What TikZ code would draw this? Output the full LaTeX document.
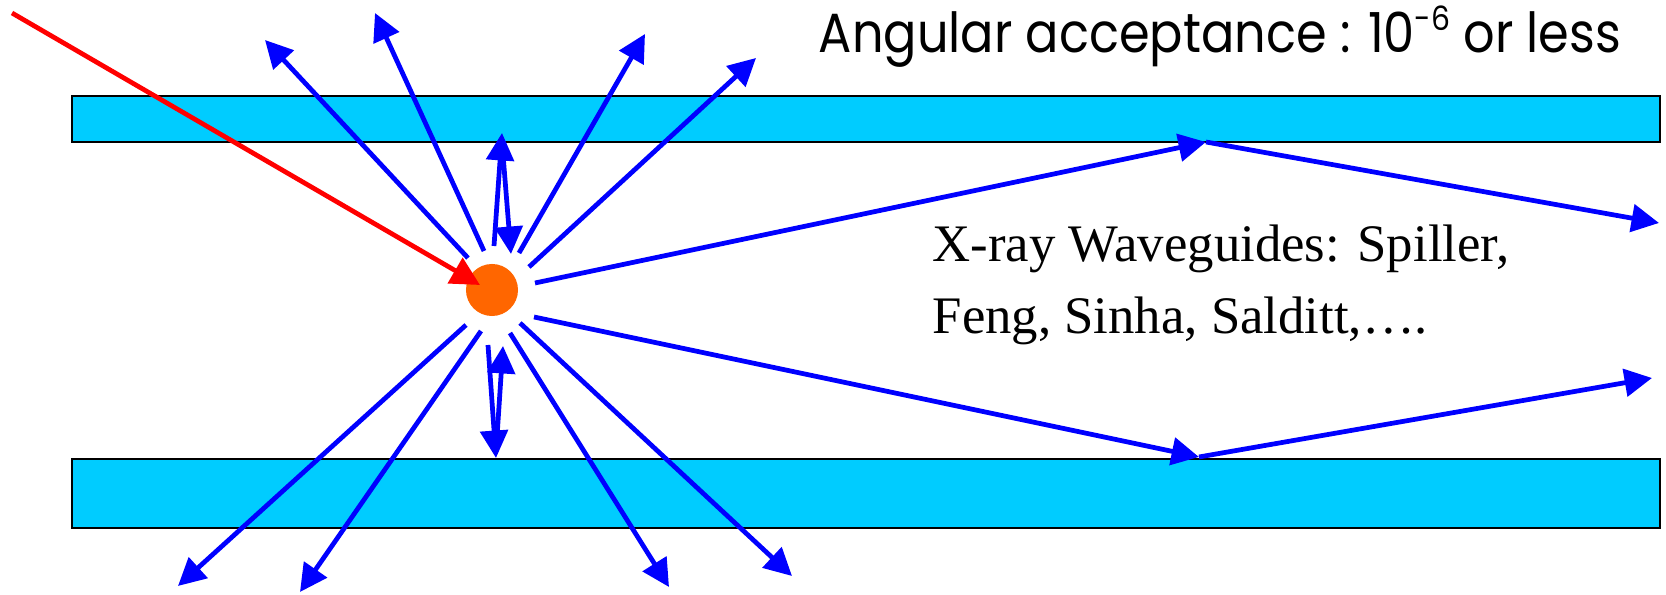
\documentclass[tikz,border=0pt]{standalone}
\usepackage{graphicx}
\usepackage{fontspec}
\setmainfont{Liberation Serif}
\newfontfamily\comicfont{Poppins}
\usetikzlibrary{arrows.meta}
\definecolor{guidecyan}{HTML}{00CCFF}
\definecolor{srcorange}{HTML}{FF6600}
\definecolor{rayblue}{HTML}{0000FF}
\definecolor{beamred}{HTML}{FF0000}
\begin{document}
\begin{tikzpicture}[x=0.01cm,y=-0.01cm,
  guide/.style={draw=black, line width=0.5pt, fill=guidecyan},
  ray/.style={draw=rayblue, line width=1.35pt, -{Triangle[length=7.8pt,width=7.8pt]}},
  beam/.style={draw=beamred, line width=1.35pt, -{Triangle[length=8.2pt,width=8.2pt]}},
  src/.style={circle, fill=srcorange, inner sep=0pt, minimum size=0.52cm},
  label/.style={anchor=base west, inner sep=0pt, font=\fontsize{15}{18}\selectfont},
]
\useasboundingbox (0,0) rectangle (1666,595);
% waveguides
\draw[guide] (72,96) rectangle (1660,142);
\draw[guide] (72,459) rectangle (1660,528);
% source
\node[src] (src) at (492,290) {};
% end points
\coordinate (b0) at (12,13);
\coordinate (b1) at (480,285);
\coordinate (u1s) at (468,258); \coordinate (u1e) at (265,40);
\coordinate (u2s) at (484,251); \coordinate (u2e) at (375,13);
\coordinate (u3s) at (494,246); \coordinate (u3e) at (502,133);
\coordinate (u3r) at (502,142); \coordinate (u3f) at (511,254);
\coordinate (u4s) at (519,253); \coordinate (u4e) at (645,34);
\coordinate (u5s) at (529,267); \coordinate (u5e) at (756,58);
\coordinate (r1s) at (535,283); \coordinate (r1m) at (1206,142); \coordinate (r1e) at (1659,223);
\coordinate (r2s) at (534,317); \coordinate (r2m) at (1199,457); \coordinate (r2e) at (1652,378);
\coordinate (d1s) at (466,325); \coordinate (d1e) at (178,586);
\coordinate (d2s) at (481,331); \coordinate (d2e) at (300,592);
\coordinate (d3s) at (488,345); \coordinate (d3e) at (496,458);
\coordinate (d3r) at (496,452); \coordinate (d3f) at (503,346);
\coordinate (d4s) at (510,333); \coordinate (d4e) at (669,587);
\coordinate (d5s) at (520,323); \coordinate (d5e) at (792,576);
% incoming beam
\draw[beam] (b0) -- (b1);
% rays
\draw[ray] (u1s) -- (u1e);
\draw[ray] (u2s) -- (u2e);
\draw[ray] (u3s) -- (u3e);
\draw[ray] (u3r) -- (u3f);
\draw[ray] (u4s) -- (u4e);
\draw[ray] (u5s) -- (u5e);
\draw[ray] (r1s) -- (r1m);
\draw[ray] (r1m) -- (r1e);
\draw[ray] (r2s) -- (r2m);
\draw[ray] (r2m) -- (r2e);
\draw[ray] (d1s) -- (d1e);
\draw[ray] (d2s) -- (d2e);
\draw[ray] (d3s) -- (d3e);
\draw[ray] (d3r) -- (d3f);
\draw[ray] (d4s) -- (d4e);
\draw[ray] (d5s) -- (d5e);
% texts
\node[anchor=base west, inner sep=0pt, font=\comicfont\fontsize{15.7}{19}\selectfont] (title) at (818,53) {\resizebox{8.02cm}{\height}{Angular acceptance : 10\raisebox{0.75ex}{\fontsize{9.5}{10}\selectfont -6} or less}};
\node[label] (refs1) at (932,262) {X-ray Waveguides: Spiller,};
\node[label] (refs2) at (932,334) {Feng, Sinha, Salditt,….};
\end{tikzpicture}
\end{document}
